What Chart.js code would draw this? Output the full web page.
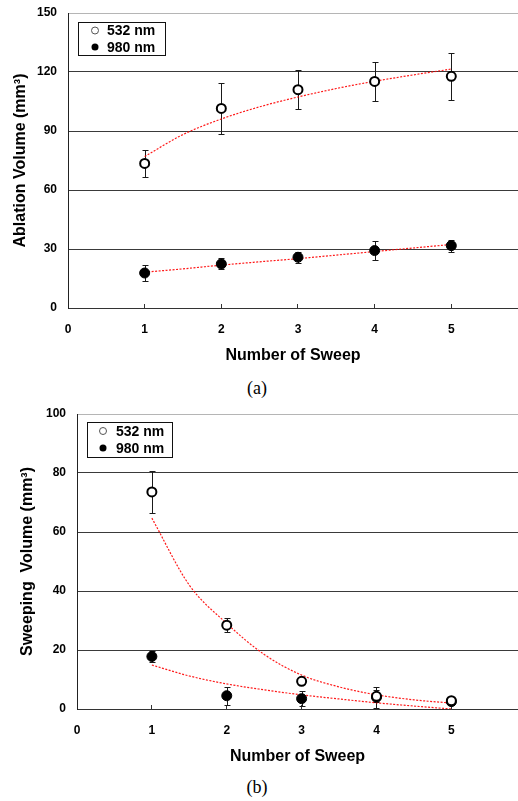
<!DOCTYPE html>
<html>
<head>
  <title>Ablation and Sweeping Volume vs Number of Sweep</title>
  <script src="https://cdn.jsdelivr.net/npm/chart.js"></script>
  <style>
    body { margin: 0; background: #fff; width: 518px; height: 801px; position: relative; overflow: hidden; }
    .panel { position: absolute; left: 0; width: 518px; height: 372px; }
    .caption { position: absolute; left: 0; width: 514px; text-align: center;
      font-family: "Liberation Serif", "Times New Roman", serif; font-size: 18px; line-height: 20px; }
  </style>
</head>
<body>
  <div class="panel" style="top:0"><canvas id="chartA" width="518" height="372"></canvas></div>
  <div class="caption" style="top:378px">(a)</div>
  <div class="panel" style="top:400px"><canvas id="chartB" width="518" height="372"></canvas></div>
  <div class="caption" style="top:777px">(b)</div>

  <script>
    // data
    const sweeps = [1, 2, 3, 4, 5];
    const xTicks = [0, 1, 2, 3, 4, 5];
    const yTicksA = [0, 30, 60, 90, 120, 150];
    const yTicksB = [0, 20, 40, 60, 80, 100];

    const ablation532 = [73.5, 101.5, 111, 115.2, 117.8];
    const ablation532Err = [7, 13, 10, 10, 12];
    const ablation980 = [17.8, 22.4, 25.8, 29.2, 31.7];
    const ablation980Err = [4, 2.8, 2.8, 5, 3];

    const sweeping532 = [73.6, 28.4, 9.4, 4.3, 2.8];
    const sweeping532Err = [7, 2.3, 1, 2, 1];
    const sweeping980 = [17.8, 4.5, 3.5, 4.0, 2.5];
    const sweeping980Err = [2, 3, 2.5, 3.5, 1];

    // red trend lines
    const fitX = [1, 1.5, 2, 2.5, 3, 3.5, 4, 4.5, 5];
    const ablationFit532 = [77, 88.2, 96.1, 102.3, 107.3, 111.6, 115.3, 118.5, 121.5];
    const ablationFit980 = [18.2, 19.9, 21.8, 23.5, 25.1, 26.9, 28.7, 30.5, 32.3];
    const sweepingFit532 = [64.7, 42, 29, 18.5, 11.5, 7.5, 4.8, 3.1, 2.0];
    const sweepingFit980 = [14.9, 11.2, 8.5, 6.5, 4.8, 3.4, 2.1, 1.0, 0.0];

    Chart.defaults.font.family = '"Liberation Sans", Arial, sans-serif';
    Chart.defaults.color = '#000';

    const pts = (xs, ys) => xs.map((x, i) => ({ x: x, y: ys[i] }));

    const errorBars = {
      id: 'errorBars',
      beforeDatasetsDraw(chart) {
        const { ctx, scales: { x, y } } = chart;
        ctx.save();
        ctx.strokeStyle = '#1a1a1a';
        ctx.lineWidth = 1;
        chart.data.datasets.forEach(ds => {
          if (!ds.errors) return;
          ds.data.forEach((p, i) => {
            const px = Math.round(x.getPixelForValue(p.x)) + 0.5;
            const top = Math.round(y.getPixelForValue(p.y + ds.errors[i])) + 0.5;
            const bot = Math.round(y.getPixelForValue(p.y - ds.errors[i])) + 0.5;
            ctx.beginPath();
            ctx.moveTo(px, top); ctx.lineTo(px, bot);
            ctx.moveTo(px - 3, top); ctx.lineTo(px + 3, top);
            ctx.moveTo(px - 3, bot); ctx.lineTo(px + 3, bot);
            ctx.stroke();
          });
        });
        ctx.restore();
      }
    };

    const boxLegend = {
      id: 'boxLegend',
      afterDraw(chart, args, opts) {
        const { ctx, chartArea } = chart;
        const bx = Math.round(chartArea.left + opts.dx);
        const by = Math.round(chartArea.top + opts.dy);
        ctx.save();
        ctx.fillStyle = '#fff';
        ctx.fillRect(bx, by, opts.w, opts.h);
        ctx.strokeStyle = '#111';
        ctx.lineWidth = 1;
        ctx.strokeRect(bx + 0.5, by + 0.5, opts.w, opts.h);
        ctx.font = 'bold 14px "Liberation Sans", Arial, sans-serif';
        ctx.textBaseline = 'middle';
        chart.data.datasets.filter(d => d.errors).forEach((d, i) => {
          const cy = by + opts.rows[i];
          ctx.beginPath();
          ctx.arc(bx + opts.markX, cy, 3.5, 0, Math.PI * 2);
          if (d.filled) {
            ctx.fillStyle = '#000';
            ctx.fill();
          } else {
            ctx.strokeStyle = '#555';
            ctx.stroke();
          }
          ctx.fillStyle = '#000';
          ctx.fillText(d.label, bx + opts.textX, cy + 1);
        });
        ctx.restore();
      }
    };

    function makeChart(id, p) {
      return new Chart(document.getElementById(id), {
        type: 'scatter',
        data: {
          datasets: [
            { label: '532 nm', data: pts(sweeps, p.open), errors: p.openErr,
              pointRadius: 4.5, pointBorderWidth: 2, pointBorderColor: '#000', pointBackgroundColor: '#fff' },
            { label: '980 nm', data: pts(sweeps, p.filled), errors: p.filledErr, filled: true,
              pointRadius: 5, pointBorderWidth: 1, pointBorderColor: '#000', pointBackgroundColor: '#000' },
            { label: 'fit 532', data: pts(fitX, p.fitOpen), showLine: true, pointRadius: 0,
              borderColor: 'rgba(255,0,0,0.9)', borderWidth: 1.2, borderDash: [2, 1.5], cubicInterpolationMode: 'monotone' },
            { label: 'fit 980', data: pts(fitX, p.fitFilled), showLine: true, pointRadius: 0,
              borderColor: 'rgba(255,0,0,0.9)', borderWidth: 1.2, borderDash: [2, 1.5], cubicInterpolationMode: 'monotone' }
          ]
        },
        options: {
          responsive: false,
          animation: false,
          devicePixelRatio: 1,
          layout: { autoPadding: false, padding: { top: p.top, right: 0, bottom: 0, left: 0 } },
          plugins: {
            legend: { display: false },
            tooltip: { enabled: false },
            boxLegend: p.legend
          },
          scales: {
            x: {
              type: 'linear', min: 0, max: p.xMax,
              afterBuildTicks: s => { s.ticks = xTicks.map(v => ({ value: v })); },
              afterFit: s => { s.height = p.xHeight; s.paddingLeft = 0; s.paddingRight = 0; },
              grid: { drawOnChartArea: false, drawTicks: true, tickLength: -4, color: '#333' },
              border: { color: '#333', width: 1 },
              ticks: { padding: 18, color: '#000', font: { size: 12, weight: 'bold' } },
              title: { display: true, text: 'Number of Sweep', color: '#000',
                font: { size: 16, weight: 'bold' }, padding: { top: 0, bottom: p.xTitlePad } }
            },
            y: {
              min: 0, max: p.yTicks[p.yTicks.length - 1],
              afterBuildTicks: s => { s.ticks = p.yTicks.map(v => ({ value: v })); },
              afterFit: s => { s.width = p.yWidth; s.paddingTop = 0; s.paddingBottom = 0; },
              grid: {
                drawTicks: false,
                color: c => (c.tick && c.tick.value === p.yTicks[p.yTicks.length - 1]) ? '#b5b5b5' : '#3a3a3a'
              },
              border: { color: '#222', width: 1 },
              ticks: { padding: 11, color: '#000', font: { size: 12, weight: 'bold' } },
              title: { display: true, text: p.yTitle, color: '#000',
                font: { size: 16, weight: 'bold' }, padding: { top: p.yTitlePad, bottom: 0 } }
            }
          }
        },
        plugins: [errorBars, boxLegend]
      });
    }

    makeChart('chartA', {
      open: ablation532, openErr: ablation532Err,
      filled: ablation980, filledErr: ablation980Err,
      fitOpen: ablationFit532, fitFilled: ablationFit980,
      yTicks: yTicksA, yTitle: 'Ablation Volume (mm³)',
      top: 13, xHeight: 64, yWidth: 68, xMax: 5.87, xTitlePad: 7, yTitlePad: 11,
      legend: { dx: 10, dy: 9, w: 87, h: 33, markX: 17, textX: 29, rows: [8.5, 25] }
    });

    makeChart('chartB', {
      open: sweeping532, openErr: sweeping532Err,
      filled: sweeping980, filledErr: sweeping980Err,
      fitOpen: sweepingFit532, fitFilled: sweepingFit980,
      yTicks: yTicksB, yTitle: 'Sweeping  Volume (mm³)',
      top: 14, xHeight: 63, yWidth: 77, xMax: 5.89, xTitlePad: 6, yTitlePad: 18,
      legend: { dx: 10, dy: 8, w: 85, h: 35, markX: 16, textX: 29, rows: [9, 26] }
    });
  </script>
</body>
</html>
